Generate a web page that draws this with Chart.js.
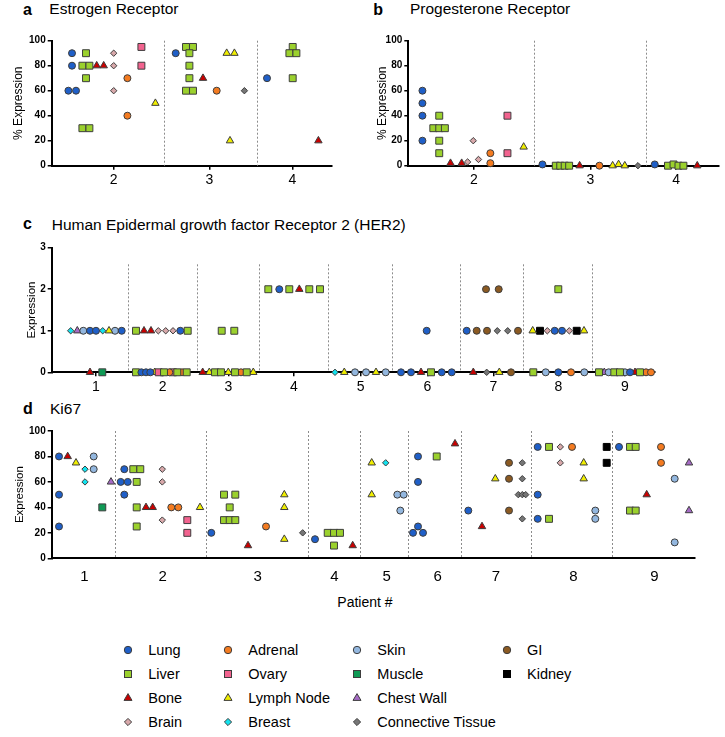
<!DOCTYPE html>
<html>
<head>
<meta charset="utf-8">
<script src="https://cdn.jsdelivr.net/npm/chart.js@4.4.1/dist/chart.umd.min.js"></script>
<style>
  body { margin: 0; background: #fff; font-family: "Liberation Sans", Arial, sans-serif; color: #000; }
  #page { position: relative; width: 725px; height: 737px; overflow: hidden; }
  .txt { position: absolute; white-space: nowrap; line-height: 1; }
  .tag { font-weight: bold; font-size: 16px; }
  .ttl { font-size: 15.5px; }
  canvas { position: absolute; }
  .lg { position: absolute; display: flex; align-items: center; height: 16px; font-size: 14.5px; white-space: nowrap; }
  .lg svg { flex: none; margin-right: 14px; }
</style>
</head>
<body>
<div id="page">
  <div class="txt tag" style="left:23px;top:1.5px">a</div>
  <div class="txt ttl" style="left:49.3px;top:0.5px">Estrogen Receptor</div>
  <div class="txt tag" style="left:373.3px;top:1.5px">b</div>
  <div class="txt ttl" style="left:410px;top:0.5px">Progesterone Receptor</div>
  <div class="txt tag" style="left:23px;top:215.8px">c</div>
  <div class="txt ttl" style="left:51.7px;top:217px">Human Epidermal growth factor Receptor 2 (HER2)</div>
  <div class="txt tag" style="left:23px;top:400.5px">d</div>
  <div class="txt ttl" style="left:50px;top:401px">Ki67</div>
  <div class="txt" style="left:337.3px;top:595px;font-size:14px">Patient #</div>

  <canvas id="chartA" width="345" height="165" style="left:0;top:25px"></canvas>
  <canvas id="chartB" width="365" height="165" style="left:360px;top:25px"></canvas>
  <canvas id="chartC" width="725" height="160" style="left:0;top:235px"></canvas>
  <canvas id="chartD" width="725" height="170" style="left:0;top:415px"></canvas>
  <div id="legend"></div>
</div>

<script>
// tissue sites, in legend order (4 per column)
const tissues = ['Lung', 'Liver', 'Bone', 'Brain', 'Adrenal', 'Ovary', 'Lymph Node', 'Breast',
  'Skin', 'Muscle', 'Chest Wall', 'Connective Tissue', 'GI', 'Kidney'];
const tissueColors = ['#1f5fc8', '#9bd12d', '#c80000', '#d8a8aa', '#f47b20', '#f2638f', '#f0ee00', '#12e2ee',
  '#93b7df', '#0f9a55', '#a66bc6', '#767676', '#8b5a22', '#000000'];
const tissueShapes = ['circle', 'rect', 'triangle', 'rectRot', 'circle', 'rect', 'triangle', 'rectRot',
  'circle', 'rect', 'triangle', 'rectRot', 'circle', 'rect'];

// ---- a: Estrogen receptor (% expression), x = position along patient axis ----
const erTicks = [62, 157.7, 240.7];
const erLabels = ['2', '3', '4'];
const erDividers = [112.7, 205.7];
const erLung = [[20.3, 90], [20.3, 80], [16.7, 60], [24.3, 60], [124, 90], [215.3, 70]];
const erLiver = [[34.3, 90], [30.7, 80], [37.7, 80], [34.3, 70], [30.7, 30], [37.7, 30],
  [134.3, 95], [141.3, 95], [137.7, 90], [137.7, 80], [137.7, 70], [134.3, 60], [141.3, 60],
  [241, 95], [237.7, 90], [244.7, 90], [241, 70]];
const erBone = [[45, 80], [52, 80], [151.3, 70], [266.7, 20]];
const erBrain = [[62, 90], [62, 80], [62, 60]];
const erAdrenal = [[75.7, 70], [75.7, 40], [165, 60]];
const erOvary = [[89.7, 95], [89.7, 80]];
const erLymph = [[103.7, 50], [175, 90], [182.7, 90], [178.3, 20]];
const erConnective = [[192.7, 60]];

// ---- b: Progesterone receptor ----
const prTicks = [66.3, 184.3, 271];
const prLabels = ['2', '3', '4'];
const prDividers = [127.3, 240.3];
const prLung = [[14.3, 60], [14.3, 50], [14.3, 40], [14.3, 20], [135.7, 1], [249.3, 1]];
const prLiver = [[31.3, 40], [25.3, 30], [31.3, 30], [37, 30], [31.3, 20], [31.3, 10],
  [149.2, 0], [153.7, 0], [158.2, 0], [162.7, 0], [262.7, 0], [268.3, 1], [273.3, 0], [278.3, 0]];
const prBone = [[42.7, 2], [54, 2], [173.3, 0], [292.3, 0]];
const prBrain = [[60, 3], [71, 5], [65.7, 20]];
const prAdrenal = [[83, 10], [83, 2], [193.3, 0]];
const prOvary = [[100.3, 40], [100.3, 10]];
const prLymph = [[116.7, 15], [206.7, 0], [212.7, 1], [219, 0]];
const prConnective = [[232.3, 0]];

// ---- c: HER2 score ----
const herTicks = [44.3, 111, 176.6, 242.3, 309, 375.6, 441.6, 506.6, 573.3];
const herLabels = ['1', '2', '3', '4', '5', '6', '7', '8', '9'];
const herDividers = [76, 145, 207, 276, 340, 408.3, 471.6, 540.6];
const herLung = [[38.3, 1], [44.3, 1], [70, 1], [128.6, 1], [89.7, 0], [94.3, 0], [98.6, 0], [227.6, 2],
  [375, 1], [349.3, 0], [359.3, 0], [390, 0], [400, 0], [415, 1], [503, 1], [510.3, 1], [506.6, 0], [578.3, 0]];
const herLiver = [[84.3, 1], [136, 1], [84.3, 0], [112.3, 0], [125.6, 0], [135, 0], [170, 1], [182.6, 1],
  [163.3, 0], [169.3, 0], [183.3, 0], [195, 0], [216.6, 2], [237.6, 2], [257.6, 2], [268.3, 2], [379.3, 0],
  [506.6, 2], [481.6, 0], [547.3, 0], [562.6, 0], [568.3, 0], [588.3, 0]];
const herBone = [[38.3, 0], [92.3, 1], [99.3, 1], [151, 0], [247.6, 2], [369.3, 0], [421.6, 0], [583.3, 0]];
const herBrain = [[106.6, 1], [114, 1], [121.3, 1], [495.6, 1], [517.6, 1]];
const herAdrenal = [[117.6, 0], [130.3, 0], [189.3, 0], [519.3, 0], [594.3, 0], [599.3, 0]];
const herOvary = [[107, 0], [121.3, 0]];
const herLymph = [[57.3, 1], [103, 0], [157.6, 0], [176.6, 0], [201.6, 0], [292.6, 0], [324.3, 0],
  [447.6, 0], [481, 1], [532.3, 1]];
const herBreast = [[19, 1], [51, 1], [283.3, 0]];
const herSkin = [[31.6, 1], [63.3, 1], [303.3, 0], [314.3, 0], [334, 0], [494, 0], [532.6, 0], [557, 0], [573.3, 0]];
const herMuscle = [[50.6, 0]];
const herChestWall = [[25.6, 1], [552.6, 0]];
const herConnective = [[445.6, 1], [456, 1], [435, 0]];
const herGI = [[434.3, 2], [447, 2], [425, 1], [435.3, 1], [466.3, 1], [459.3, 0]];
const herKidney = [[488.3, 1], [525, 1]];

// ---- d: Ki67 ----
const kiTicks = [32.6, 111, 206, 282.6, 335, 386, 444.3, 521.6, 602.6];
const kiLabels = ['1', '2', '3', '4', '5', '6', '7', '8', '9'];
const kiDividers = [63.6, 154.3, 256.6, 308.3, 356, 409.6, 479.3, 560.6];
const kiLung = [[7.3, 80], [7.3, 50], [7.3, 25], [72.6, 70], [69, 60], [76, 60], [72.6, 50], [159.6, 20],
  [263.3, 15], [366.3, 80], [366.3, 60], [366.3, 25], [361.3, 20], [371.3, 20], [416.6, 37.5],
  [486, 87.5], [486, 50], [486, 31], [567.3, 87.5]];
const kiLiver = [[81.6, 70], [88.6, 70], [85, 60], [85, 40], [85, 25], [172.3, 50], [183.6, 50], [178, 40],
  [172.3, 30], [178, 30], [183.6, 30], [276, 20], [282.3, 20], [288.3, 20], [282.3, 10], [385, 80],
  [497.3, 87.5], [497.3, 31], [578.3, 87.5], [584, 87.5], [578.3, 37.5], [584, 37.5]];
const kiBone = [[16, 80], [94.3, 40], [101, 40], [196.3, 10], [301, 10], [403.3, 90], [430.3, 25], [595, 50]];
const kiBrain = [[110.6, 70], [110.6, 60], [110.6, 30], [508.6, 87.5], [508.6, 75]];
const kiAdrenal = [[119.6, 40], [126.6, 40], [214.3, 25], [520.3, 87.5], [609.3, 87.5], [609.3, 75]];
const kiOvary = [[135.6, 30], [135.6, 20]];
const kiLymph = [[24.3, 75], [148.3, 40], [232.6, 50], [232.6, 40], [232.6, 15], [320, 75], [320, 50],
  [443.6, 62.5], [532, 75], [532, 62.5]];
const kiBreast = [[33.3, 70], [33.3, 60], [334, 75]];
const kiSkin = [[42, 80], [42, 70], [345.6, 50], [352, 50], [348.6, 37.5], [543.6, 37.5], [543.6, 31],
  [623, 62.5], [623, 12.5]];
const kiMuscle = [[50.6, 40]];
const kiChestWall = [[59.3, 60], [637.3, 75], [637.3, 37.5]];
const kiConnective = [[251, 20], [470.6, 75], [470.6, 62.5], [466.6, 50], [470.6, 50], [474, 50], [470.6, 31]];
const kiGI = [[457.3, 75], [457.3, 62.5], [457.3, 37.5]];
const kiKidney = [[555, 87.5], [555, 75]];

Chart.defaults.font.family = '"Liberation Sans", Arial, sans-serif';
Chart.defaults.color = '#000';

const shapeRadius = { circle: 3.5, rect: 4.9, triangle: 4.3, rectRot: 3.2 };

// dotted separators between patients
const dividerPlugin = {
  id: 'dividers',
  beforeDatasetsDraw(chart, args, opts) {
    const { ctx, chartArea, scales } = chart;
    ctx.save();
    ctx.strokeStyle = '#8c8c8c';
    ctx.lineWidth = 1;
    ctx.setLineDash([2, 2]);
    opts.positions.forEach(p => {
      const px = Math.round(scales.x.getPixelForValue(p)) + 0.5;
      ctx.beginPath();
      ctx.moveTo(px, scales.y.getPixelForValue(opts.top));
      ctx.lineTo(px, chartArea.bottom);
      ctx.stroke();
    });
    ctx.restore();
  }
};

function buildDatasets(series) {
  return series.map(([name, pts]) => {
    const i = tissues.indexOf(name);
    const shape = tissueShapes[i];
    return {
      label: name,
      data: pts.map(p => ({ x: p[0], y: p[1] })),
      pointStyle: shape,
      pointRadius: shapeRadius[shape],
      pointHoverRadius: shapeRadius[shape],
      pointBackgroundColor: tissueColors[i],
      pointBorderColor: name === 'Kidney' ? '#000' : '#3d3d3d',
      pointBorderWidth: 1,
      showLine: false,
      clip: false
    };
  });
}

function makePanel(id, cfg) {
  new Chart(document.getElementById(id), {
    type: 'scatter',
    data: { datasets: buildDatasets(cfg.series) },
    options: {
      responsive: false,
      animation: false,
      events: [],
      layout: { padding: cfg.pad },
      plugins: {
        legend: { display: false },
        tooltip: { enabled: false },
        dividers: { positions: cfg.dividers, top: cfg.dividerTop }
      },
      scales: {
        x: {
          type: 'linear',
          min: 0,
          max: cfg.xMax,
          afterBuildTicks: s => { s.ticks = cfg.ticks.map(v => ({ value: v })); },
          afterFit: s => { s.height = cfg.xHeight; },
          ticks: {
            autoSkip: false,
            maxRotation: 0,
            font: { size: cfg.xFont },
            padding: cfg.xPad,
            callback: (v, i) => cfg.labels[i]
          },
          grid: { drawOnChartArea: false, drawTicks: cfg.xTickMarks, tickLength: 4, color: '#000', lineWidth: 1.5 },
          border: { color: '#000', width: 2 }
        },
        y: {
          min: 0,
          max: cfg.yMax,
          afterFit: s => { s.width = cfg.yWidth; },
          ticks: { stepSize: cfg.yStep, font: { size: 10, weight: 'bold' }, padding: 2 },
          grid: { drawOnChartArea: false, tickLength: 4, color: '#000', lineWidth: 1.5 },
          border: { color: '#000', width: 2 },
          title: { display: true, text: cfg.yTitle, font: { size: cfg.titleSize }, padding: 0 }
        }
      }
    },
    plugins: [dividerPlugin]
  });
}

makePanel('chartA', {
  series: [['Lung', erLung], ['Liver', erLiver], ['Bone', erBone], ['Brain', erBrain], ['Adrenal', erAdrenal],
    ['Ovary', erOvary], ['Lymph Node', erLymph], ['Connective Tissue', erConnective]],
  ticks: erTicks, labels: erLabels, dividers: erDividers, dividerTop: 100,
  xMax: 280, yMax: 100, yStep: 20, yTitle: '% Expression', titleSize: 12,
  pad: { left: 11.8, right: 13.3, top: 15.7, bottom: 0 }, yWidth: 39.9, xHeight: 24.3,
  xFont: 14, xPad: 2, xTickMarks: true
});

makePanel('chartB', {
  series: [['Lung', prLung], ['Liver', prLiver], ['Bone', prBone], ['Brain', prBrain], ['Adrenal', prAdrenal],
    ['Ovary', prOvary], ['Lymph Node', prLymph], ['Connective Tissue', prConnective]],
  ticks: prTicks, labels: prLabels, dividers: prDividers, dividerTop: 100,
  xMax: 314.4, yMax: 100, yStep: 20, yTitle: '% Expression', titleSize: 12,
  pad: { left: 15.1, right: 2.3, top: 15.7, bottom: 0 }, yWidth: 33.2, xHeight: 24.3,
  xFont: 14, xPad: 2, xTickMarks: true
});

makePanel('chartC', {
  series: [['Lung', herLung], ['Liver', herLiver], ['Bone', herBone], ['Brain', herBrain], ['Adrenal', herAdrenal],
    ['Ovary', herOvary], ['Lymph Node', herLymph], ['Breast', herBreast], ['Skin', herSkin], ['Muscle', herMuscle],
    ['Chest Wall', herChestWall], ['Connective Tissue', herConnective], ['GI', herGI], ['Kidney', herKidney]],
  ticks: herTicks, labels: herLabels, dividers: herDividers, dividerTop: 2.6,
  xMax: 603.3, yMax: 3, yStep: 1, yTitle: 'Expression', titleSize: 11.5,
  pad: { left: 24.8, right: 70, top: 12.7, bottom: 0 }, yWidth: 26.9, xHeight: 22.7,
  xFont: 14, xPad: 2, xTickMarks: true
});

makePanel('chartD', {
  series: [['Lung', kiLung], ['Liver', kiLiver], ['Bone', kiBone], ['Brain', kiBrain], ['Adrenal', kiAdrenal],
    ['Ovary', kiOvary], ['Lymph Node', kiLymph], ['Breast', kiBreast], ['Skin', kiSkin], ['Muscle', kiMuscle],
    ['Chest Wall', kiChestWall], ['Connective Tissue', kiConnective], ['GI', kiGI], ['Kidney', kiKidney]],
  ticks: kiTicks, labels: kiLabels, dividers: kiDividers, dividerTop: 100,
  xMax: 643.3, yMax: 100, yStep: 20, yTitle: 'Expression', titleSize: 11.5,
  pad: { left: 13.1, right: 30, top: 16, bottom: 0 }, yWidth: 38.6, xHeight: 26.7,
  xFont: 15, xPad: 9.4, xTickMarks: false
});

// legend: 4 rows per column
function markerSvg(shape, fill, stroke) {
  let el;
  if (shape === 'circle') el = '<circle cx="6" cy="6" r="3.7"/>';
  else if (shape === 'rect') el = '<rect x="2.5" y="2.5" width="7" height="7"/>';
  else if (shape === 'triangle') el = '<polygon points="6,1.6 10,8.4 2,8.4"/>';
  else el = '<polygon points="6,2.4 9.6,6 6,9.6 2.4,6"/>';
  return '<svg width="12" height="12" viewBox="0 0 12 12"><g fill="' + fill + '" stroke="' + stroke +
    '" stroke-width="1">' + el + '</g></svg>';
}

const legendCols = [128.3, 228.3, 357.3, 507];
const legendRows = [650.3, 673.7, 698, 722];
const legend = document.getElementById('legend');
tissues.forEach((name, i) => {
  const item = document.createElement('div');
  item.className = 'lg';
  item.style.left = (legendCols[Math.floor(i / 4)] - 6) + 'px';
  item.style.top = (legendRows[i % 4] - 8) + 'px';
  item.innerHTML = markerSvg(tissueShapes[i], tissueColors[i], name === 'Kidney' ? '#000' : '#3d3d3d') +
    '<span>' + name + '</span>';
  legend.appendChild(item);
});
</script>
</body>
</html>
